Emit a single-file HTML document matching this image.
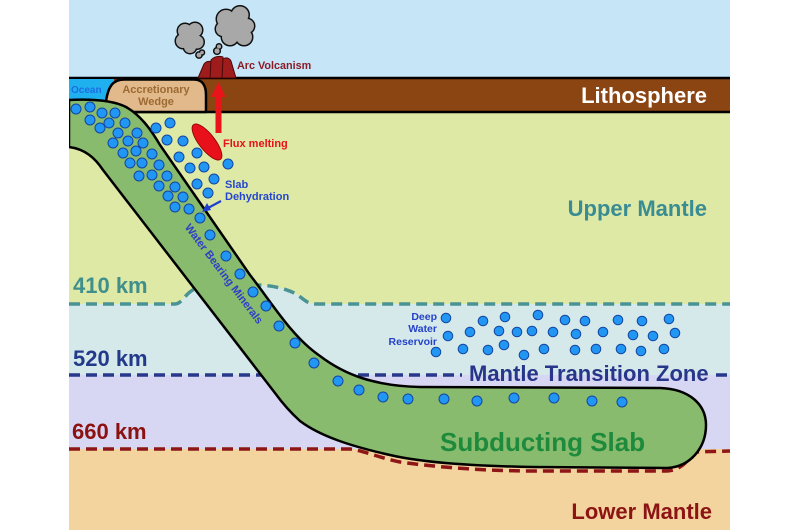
<!DOCTYPE html>
<html><head><meta charset="utf-8"><style>
html,body{margin:0;padding:0;background:#fff;}
svg{display:block;}
text{font-family:"Liberation Sans",Arial,sans-serif;font-weight:bold;}
</style></head><body>
<svg width="800" height="530" viewBox="0 0 800 530" xmlns="http://www.w3.org/2000/svg">
<rect x="0" y="0" width="800" height="530" fill="#fff"/>
<!-- layers -->
<rect x="69" y="0" width="661" height="79" fill="#c6e6f8"/>
<rect x="69" y="111" width="661" height="195" fill="#dfe9a6"/>
<path d="M69,304 L175,304 C182,304 186,292 195,289 L255,285 C270,285 285,288 296,294 C303,298 306,304 316,304 L730,304 L730,376 L69,376 Z" fill="#d5e9ea"/>
<rect x="69" y="375" width="661" height="75" fill="#d8d7f3"/>
<rect x="69" y="449" width="661" height="81" fill="#f3d39e"/>
<!-- dashed boundaries -->
<path d="M69,304 L175,304 C182,304 186,292 195,289 L255,285 C270,285 285,288 296,294 C303,298 306,304 316,304 L730,304" fill="none" stroke="#4a9394" stroke-width="3.5" stroke-dasharray="11 6"/>
<path d="M69,375 L462,375 M716,375 L730,375" fill="none" stroke="#27398c" stroke-width="3.5" stroke-dasharray="11 6"/>
<path d="M69,449 L350,449 C365,451 380,458 400,462 C450,469 500,471 533,471 L667,471 C680,470 688,462 693,452 L730,451" fill="none" stroke="#8e1616" stroke-width="3.5" stroke-dasharray="11 6"/>
<!-- lithosphere -->
<rect x="69" y="78" width="661" height="34" fill="#8b4513"/>
<line x1="69" y1="78" x2="730" y2="78" stroke="#000" stroke-width="2.5"/>
<line x1="125" y1="112" x2="730" y2="112" stroke="#000" stroke-width="2.5"/>
<!-- ocean -->
<rect x="69" y="79" width="45" height="22" fill="#1fb0ef"/>
<!-- wedge -->
<path d="M106,101 C108,88 112,79.5 124,79.5 L194,79.5 C202,79.5 206,85 206,95 L206,112 L128,112 Z" fill="#e2b98a" stroke="#000" stroke-width="2.5" stroke-linejoin="round"/>
<!-- slab -->
<path d="M69,100 C90,99 112,100 126,107 C140,115 150,128 160,145 L250,275 C272,303 292,337 320,356 C345,375 375,386 420,387 L660,388 C690,389 706,405 706,425 C706,448 690,467 667,468 L533,467 C470,466 420,462 390,455 C350,446 320,436 300,421 C290,412 283,404 275,393 L103,170 C95,158 85,149 69,147 Z" fill="#88bb6d" stroke="#000" stroke-width="2.5" stroke-linejoin="round"/>
<rect x="66" y="95" width="3" height="56" fill="#fff"/>
<!-- dots -->
<g fill="#2196f3" stroke="#1546a0" stroke-width="1">
<circle cx="76" cy="109" r="5"/><circle cx="90" cy="107" r="5"/><circle cx="102" cy="113" r="5"/><circle cx="115" cy="113" r="5"/>
<circle cx="90" cy="120" r="5"/><circle cx="109" cy="123" r="5"/><circle cx="125" cy="123" r="5"/><circle cx="100" cy="128" r="5"/>
<circle cx="118" cy="133" r="5"/><circle cx="137" cy="133" r="5"/><circle cx="156" cy="128" r="5"/><circle cx="170" cy="123" r="5"/>
<circle cx="113" cy="143" r="5"/><circle cx="128" cy="141" r="5"/><circle cx="143" cy="143" r="5"/><circle cx="167" cy="140" r="5"/>
<circle cx="183" cy="141" r="5"/><circle cx="123" cy="153" r="5"/><circle cx="136" cy="151" r="5"/><circle cx="152" cy="154" r="5"/>
<circle cx="179" cy="157" r="5"/><circle cx="197" cy="153" r="5"/><circle cx="130" cy="163" r="5"/><circle cx="142" cy="163" r="5"/>
<circle cx="159" cy="165" r="5"/><circle cx="190" cy="168" r="5"/><circle cx="204" cy="167" r="5"/><circle cx="228" cy="164" r="5"/>
<circle cx="139" cy="176" r="5"/><circle cx="152" cy="175" r="5"/><circle cx="167" cy="176" r="5"/><circle cx="197" cy="184" r="5"/>
<circle cx="214" cy="179" r="5"/><circle cx="159" cy="186" r="5"/><circle cx="175" cy="187" r="5"/><circle cx="168" cy="196" r="5"/>
<circle cx="183" cy="197" r="5"/><circle cx="208" cy="193" r="5"/><circle cx="175" cy="207" r="5"/><circle cx="189" cy="209" r="5"/>
<circle cx="200" cy="218" r="5"/><circle cx="210" cy="235" r="5"/><circle cx="226" cy="256" r="5"/><circle cx="240" cy="274" r="5"/>
<circle cx="253" cy="292" r="5"/><circle cx="266" cy="306" r="5"/><circle cx="279" cy="326" r="5"/><circle cx="295" cy="343" r="5"/>
<circle cx="314" cy="363" r="5"/><circle cx="338" cy="381" r="5"/><circle cx="359" cy="390" r="5"/><circle cx="383" cy="397" r="5"/>
<circle cx="408" cy="399" r="5"/><circle cx="444" cy="399" r="5"/><circle cx="477" cy="401" r="5"/><circle cx="514" cy="398" r="5"/>
<circle cx="554" cy="398" r="5"/><circle cx="592" cy="401" r="5"/><circle cx="622" cy="402" r="5"/>
<!-- reservoir -->
<circle cx="446" cy="318" r="4.8"/><circle cx="483" cy="321" r="4.8"/><circle cx="505" cy="317" r="4.8"/><circle cx="538" cy="315" r="4.8"/>
<circle cx="565" cy="320" r="4.8"/><circle cx="585" cy="321" r="4.8"/><circle cx="618" cy="320" r="4.8"/><circle cx="642" cy="321" r="4.8"/>
<circle cx="669" cy="319" r="4.8"/><circle cx="448" cy="336" r="4.8"/><circle cx="470" cy="332" r="4.8"/><circle cx="499" cy="331" r="4.8"/>
<circle cx="517" cy="332" r="4.8"/><circle cx="532" cy="331" r="4.8"/><circle cx="553" cy="332" r="4.8"/><circle cx="576" cy="334" r="4.8"/>
<circle cx="603" cy="332" r="4.8"/><circle cx="633" cy="335" r="4.8"/><circle cx="653" cy="336" r="4.8"/><circle cx="675" cy="333" r="4.8"/>
<circle cx="436" cy="352" r="4.8"/><circle cx="463" cy="349" r="4.8"/><circle cx="488" cy="350" r="4.8"/><circle cx="504" cy="345" r="4.8"/>
<circle cx="524" cy="355" r="4.8"/><circle cx="544" cy="349" r="4.8"/><circle cx="575" cy="350" r="4.8"/><circle cx="596" cy="349" r="4.8"/>
<circle cx="621" cy="349" r="4.8"/><circle cx="641" cy="351" r="4.8"/><circle cx="664" cy="349" r="4.8"/>
</g>
<!-- flux melting ellipse -->
<ellipse cx="207" cy="142" rx="22" ry="8" transform="rotate(52 207 142)" fill="#e8101a" stroke="#8a0000" stroke-width="0.8"/>
<!-- red arrow -->
<rect x="215.5" y="96" width="6" height="37" fill="#e8141a"/>
<polygon points="211,97 225.5,97 218.5,82" fill="#e8141a"/>
<!-- slab dehydration arrow -->
<line x1="221" y1="201" x2="208" y2="208" stroke="#1f3fd0" stroke-width="2.2"/>
<polygon points="202,212 207,203 211,210" fill="#1f3fd0"/>
<!-- volcano -->
<g stroke="#4a0808" stroke-width="1" fill="#9e1c1c" stroke-linejoin="round">
<path d="M198,78 L204,64 Q207,60 212,62 L211,78 Z"/>
<path d="M210,78 L211,60 Q216,55 223,57 L224,78 Z"/>
<path d="M222,78 L223,59 Q228,56 231,61 L236,78 Z"/>
</g>
<!-- clouds -->
<g fill="#a8a8a8" stroke="#111" stroke-width="3">
<circle cx="185" cy="31" r="7"/><circle cx="195" cy="30" r="7"/><circle cx="183" cy="41" r="7"/><circle cx="197" cy="42" r="6.5"/><circle cx="190" cy="47" r="6"/><circle cx="190" cy="37" r="9"/>
<circle cx="226" cy="19" r="9"/><circle cx="240" cy="15" r="8.5"/><circle cx="247" cy="26" r="7"/><circle cx="244" cy="37" r="8"/><circle cx="230" cy="37" r="8"/><circle cx="223" cy="29" r="7"/><circle cx="236" cy="27" r="12"/>
<circle cx="199" cy="55" r="2.4"/><circle cx="202" cy="52.5" r="1.8"/><circle cx="217" cy="51" r="2.6"/><circle cx="219" cy="46.5" r="2"/>
</g>
<g fill="#a8a8a8">
<circle cx="185" cy="31" r="7"/><circle cx="195" cy="30" r="7"/><circle cx="183" cy="41" r="7"/><circle cx="197" cy="42" r="6.5"/><circle cx="190" cy="47" r="6"/><circle cx="190" cy="37" r="9"/>
<circle cx="226" cy="19" r="9"/><circle cx="240" cy="15" r="8.5"/><circle cx="247" cy="26" r="7"/><circle cx="244" cy="37" r="8"/><circle cx="230" cy="37" r="8"/><circle cx="223" cy="29" r="7"/><circle cx="236" cy="27" r="12"/>
<circle cx="199" cy="55" r="2.4"/><circle cx="202" cy="52.5" r="1.8"/><circle cx="217" cy="51" r="2.6"/><circle cx="219" cy="46.5" r="2"/>
</g>
<!-- labels -->
<g font-family="Liberation Sans, Arial, sans-serif" font-weight="bold">
<text x="237" y="69" font-size="10.8" fill="#8a1a24">Arc Volcanism</text>
<text x="71" y="93" font-size="10" fill="#1c6ee0">Ocean</text>
<text x="156" y="93" font-size="11" fill="#9c6a33" text-anchor="middle">Accretionary</text>
<text x="156" y="105" font-size="11" fill="#9c6a33" text-anchor="middle">Wedge</text>
<text x="707" y="103" font-size="22" fill="#fff" text-anchor="end">Lithosphere</text>
<text x="223" y="147" font-size="11" fill="#e8101a">Flux melting</text>
<text x="225" y="188" font-size="11" fill="#2446d0">Slab</text>
<text x="225" y="200" font-size="11" fill="#2446d0">Dehydration</text>
<text x="707" y="216" font-size="22" fill="#3a8c93" text-anchor="end">Upper Mantle</text>
<text transform="translate(221,276) rotate(53)" font-size="11" fill="#2d3fc6" text-anchor="middle">Water Bearing Minerals</text>
<text x="73" y="293" font-size="22" fill="#3f8f8d">410 km</text>
<text x="73" y="366" font-size="22" fill="#233a8c">520 km</text>
<text x="72" y="439" font-size="22" fill="#8c1111">660 km</text>
<text x="437" y="320" font-size="10.5" fill="#2442c8" text-anchor="end">Deep</text>
<text x="437" y="332" font-size="10.5" fill="#2442c8" text-anchor="end">Water</text>
<text x="437" y="345" font-size="10.5" fill="#2442c8" text-anchor="end">Reservoir</text>
<text x="469" y="381" font-size="22" fill="#27368a">Mantle Transition Zone</text>
<text x="440" y="451" font-size="26" fill="#1e8a3c">Subducting Slab</text>
<text x="712" y="519" font-size="22" fill="#8c1414" text-anchor="end">Lower Mantle</text>
</g>
</svg>
</body></html>
